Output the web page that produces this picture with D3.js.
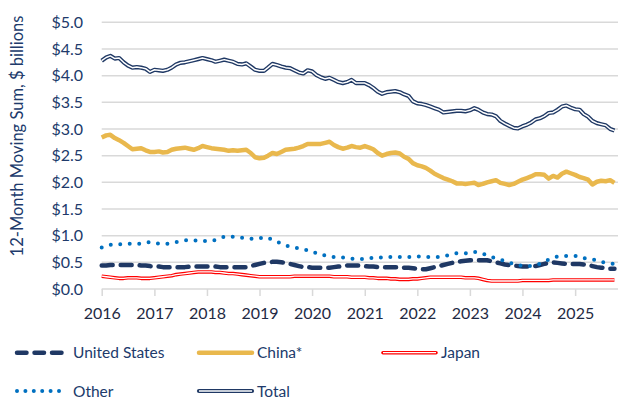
<!DOCTYPE html>
<html>
<head>
<meta charset="utf-8">
<script src="https://cdn.jsdelivr.net/npm/d3@7"></script>
<style>
  body { margin: 0; background: #fff; }
  svg text { font-family: Lato, "Open Sans", sans-serif; }
</style>
</head>
<body>
<svg id="chart" width="620" height="402"></svg>
<script>
// monthly values, Jan 2016 .. Oct 2025 ($ billions, 12-month moving sum)
const startYear = 2016;
const yTicks = [0, 0.5, 1, 1.5, 2, 2.5, 3, 3.5, 4, 4.5, 5];
const xTickYears = [2016, 2017, 2018, 2019, 2020, 2021, 2022, 2023, 2024, 2025];

const total = [
  4.28, 4.34, 4.37, 4.32, 4.33, 4.25, 4.19, 4.15, 4.16, 4.15, 4.13, 4.07,
  4.11, 4.10, 4.09, 4.11, 4.15, 4.21, 4.24, 4.25, 4.27, 4.29, 4.31, 4.33,
  4.31, 4.29, 4.26, 4.28, 4.30, 4.28, 4.26, 4.22, 4.21, 4.23, 4.17, 4.11,
  4.09, 4.09, 4.15, 4.22, 4.20, 4.17, 4.15, 4.14, 4.10, 4.06, 4.04, 4.10,
  4.08, 4.01, 3.97, 3.94, 3.96, 3.92, 3.88, 3.86, 3.88, 3.92, 3.86, 3.86,
  3.86, 3.82, 3.77, 3.70, 3.66, 3.69, 3.70, 3.71, 3.69, 3.65, 3.62, 3.52,
  3.48, 3.47, 3.45, 3.42, 3.39, 3.36, 3.31, 3.32, 3.33, 3.34, 3.34, 3.33,
  3.35, 3.39, 3.36, 3.31, 3.28, 3.27, 3.24, 3.15, 3.10, 3.06, 3.02, 3.01,
  3.05, 3.08, 3.12, 3.18, 3.20, 3.24, 3.30, 3.31, 3.36, 3.42, 3.44, 3.40,
  3.37, 3.36, 3.28, 3.23, 3.15, 3.11, 3.09, 3.07, 3.00, 2.97
];

const china = [
  2.84, 2.88, 2.89, 2.83, 2.79, 2.74, 2.68, 2.62, 2.63, 2.64, 2.60, 2.57,
  2.57, 2.58, 2.56, 2.57, 2.61, 2.63, 2.64, 2.65, 2.63, 2.61, 2.64, 2.68,
  2.66, 2.64, 2.63, 2.62, 2.61, 2.59, 2.60, 2.59, 2.60, 2.61, 2.55, 2.47,
  2.45, 2.46, 2.50, 2.55, 2.53, 2.57, 2.61, 2.62, 2.63, 2.65, 2.68, 2.72,
  2.72, 2.72, 2.72, 2.74, 2.76, 2.70, 2.66, 2.63, 2.65, 2.68, 2.66, 2.65,
  2.68, 2.65, 2.62, 2.55, 2.50, 2.53, 2.55, 2.56, 2.54, 2.48, 2.44, 2.36,
  2.32, 2.30, 2.27, 2.22, 2.16, 2.12, 2.08, 2.05, 2.02, 1.98, 1.98, 1.97,
  1.98, 1.99, 1.95, 1.97, 2.00, 2.02, 2.04, 1.99, 1.97, 1.95, 1.97, 2.01,
  2.05, 2.08, 2.11, 2.15, 2.15, 2.14, 2.07, 2.12, 2.09, 2.16, 2.20, 2.17,
  2.14, 2.10, 2.08, 2.05, 1.96, 2.01, 2.03, 2.02, 2.04, 1.99
];

const other = [
  0.78, 0.80, 0.83, 0.84, 0.84, 0.84, 0.85, 0.85, 0.85, 0.85, 0.87, 0.88,
  0.87, 0.85, 0.85, 0.85, 0.86, 0.88, 0.90, 0.91, 0.92, 0.91, 0.91, 0.90,
  0.90, 0.90, 0.92, 0.95, 0.98, 0.99, 0.98, 0.98, 0.96, 0.95, 0.94, 0.94,
  0.95, 0.97, 0.96, 0.92, 0.89, 0.85, 0.82, 0.79, 0.78, 0.76, 0.74, 0.73,
  0.71, 0.67, 0.64, 0.63, 0.61, 0.60, 0.59, 0.59, 0.58, 0.57, 0.56, 0.56,
  0.57, 0.58, 0.58, 0.59, 0.59, 0.60, 0.60, 0.60, 0.60, 0.60, 0.60, 0.61,
  0.61, 0.61, 0.60, 0.60, 0.60, 0.60, 0.61, 0.63, 0.65, 0.67, 0.67, 0.67,
  0.68, 0.70, 0.68, 0.66, 0.63, 0.60, 0.57, 0.55, 0.52, 0.49, 0.47, 0.44,
  0.44, 0.43, 0.43, 0.45, 0.47, 0.51, 0.55, 0.58, 0.61, 0.61, 0.62, 0.62,
  0.62, 0.61, 0.58, 0.56, 0.55, 0.54, 0.51, 0.49, 0.48, 0.47
];

const unitedStates = [
  0.44, 0.44, 0.45, 0.45, 0.45, 0.45, 0.45, 0.45, 0.45, 0.44, 0.44, 0.43,
  0.42, 0.42, 0.41, 0.41, 0.41, 0.41, 0.41, 0.41, 0.42, 0.42, 0.42, 0.42,
  0.42, 0.42, 0.42, 0.41, 0.41, 0.41, 0.41, 0.41, 0.41, 0.41, 0.43, 0.45,
  0.47, 0.49, 0.50, 0.51, 0.51, 0.50, 0.49, 0.47, 0.45, 0.43, 0.41, 0.41,
  0.40, 0.40, 0.40, 0.40, 0.40, 0.41, 0.42, 0.43, 0.44, 0.44, 0.44, 0.44,
  0.43, 0.42, 0.42, 0.41, 0.41, 0.41, 0.41, 0.41, 0.41, 0.40, 0.40, 0.39,
  0.38, 0.37, 0.37, 0.39, 0.41, 0.43, 0.45, 0.47, 0.49, 0.51, 0.52, 0.53,
  0.54, 0.54, 0.54, 0.54, 0.54, 0.52, 0.50, 0.48, 0.46, 0.45, 0.44, 0.43,
  0.42, 0.42, 0.42, 0.43, 0.45, 0.47, 0.49, 0.50, 0.49, 0.48, 0.47, 0.47,
  0.47, 0.47, 0.46, 0.45, 0.43, 0.41, 0.40, 0.39, 0.38, 0.38
];

const japan = [
  0.24, 0.23, 0.22, 0.21, 0.20, 0.20, 0.21, 0.21, 0.21, 0.20, 0.20, 0.20,
  0.21, 0.22, 0.23, 0.24, 0.25, 0.27, 0.28, 0.29, 0.30, 0.31, 0.32, 0.32,
  0.32, 0.32, 0.31, 0.31, 0.30, 0.29, 0.29, 0.28, 0.27, 0.26, 0.25, 0.24,
  0.23, 0.23, 0.23, 0.23, 0.23, 0.23, 0.23, 0.23, 0.24, 0.24, 0.24, 0.24,
  0.24, 0.24, 0.24, 0.24, 0.24, 0.23, 0.23, 0.23, 0.23, 0.22, 0.22, 0.22,
  0.22, 0.21, 0.21, 0.20, 0.20, 0.20, 0.19, 0.19, 0.18, 0.18, 0.18, 0.19,
  0.19, 0.20, 0.21, 0.22, 0.22, 0.22, 0.22, 0.22, 0.22, 0.22, 0.22, 0.21,
  0.21, 0.21, 0.20, 0.18, 0.16, 0.15, 0.15, 0.15, 0.15, 0.15, 0.15, 0.15,
  0.16, 0.16, 0.16, 0.16, 0.16, 0.16, 0.16, 0.17, 0.17, 0.17, 0.17, 0.17,
  0.17, 0.17, 0.17, 0.17, 0.17, 0.17, 0.17, 0.17, 0.17, 0.17
];

const navy = "#1F3864";
const textColor = "#203A6B";

const svg = d3.select("#chart");
const plotLeft = 101.7, plotRight = 618, plotTop = 22.3, plotBottom = 289;

const x = d3.scaleTime()
  .domain([new Date(2016, 0, 1), new Date(2026, 0, 1)])
  .range([plotLeft, plotLeft + 526]);
const y = d3.scaleLinear().domain([0, 5]).range([plotBottom, plotTop]);

const dateOf = (i) => new Date(startYear, i, 1);

// gridlines
svg.append("g")
  .selectAll("line")
  .data(yTicks)
  .join("line")
  .attr("x1", plotLeft)
  .attr("x2", plotRight)
  .attr("y1", (d) => y(d))
  .attr("y2", (d) => y(d))
  .attr("stroke", "#d9d9d9")
  .attr("stroke-width", 1.5);

// y labels
svg.append("g")
  .selectAll("text")
  .data(yTicks)
  .join("text")
  .attr("x", 83)
  .attr("y", (d) => y(d))
  .attr("dy", "0.36em")
  .attr("text-anchor", "end")
  .attr("font-size", "16px")
  .attr("fill", textColor)
  .text((d) => "$" + d.toFixed(1));

// x axis
const xAxis = d3.axisBottom(x)
  .tickValues(xTickYears.map((yr) => new Date(yr, 0, 1)))
  .tickFormat(d3.timeFormat("%Y"))
  .tickSize(7)
  .tickSizeOuter(0);

const gx = svg.append("g")
  .attr("transform", `translate(0,${plotBottom})`)
  .call(xAxis);
gx.select(".domain").remove();
gx.selectAll(".tick line").attr("stroke", "#d9d9d9").attr("stroke-width", 1.5);
gx.selectAll(".tick text")
  .attr("font-size", "16px")
  .attr("font-family", "Lato, sans-serif")
  .attr("fill", "#1F2A44")
  .attr("dy", "1.25em");

// axis title
svg.append("text")
  .attr("transform", "translate(23,136) rotate(-90)")
  .attr("text-anchor", "middle")
  .attr("font-size", "16.5px")
  .attr("fill", textColor)
  .text("12-Month Moving Sum, $ billions");

const line = d3.line()
  .x((d, i) => x(dateOf(i)))
  .y((d) => y(d));

const plot = svg.append("g");

// Japan: red double line
plot.append("path").attr("d", line(japan))
  .attr("fill", "none").attr("stroke", "#FF0000").attr("stroke-width", 3.6)
  .attr("stroke-linejoin", "round");
plot.append("path").attr("d", line(japan))
  .attr("fill", "none").attr("stroke", "#fff").attr("stroke-width", 1.3)
  .attr("stroke-linejoin", "round");

// US dashed
plot.append("path").attr("d", line(unitedStates))
  .attr("fill", "none").attr("stroke", navy).attr("stroke-width", 4.5)
  .attr("stroke-dasharray", "11,8").attr("stroke-linecap", "round")
  .attr("stroke-linejoin", "round");

// Other dotted
plot.append("path").attr("d", line(other))
  .attr("fill", "none").attr("stroke", "#0070C0").attr("stroke-width", 4)
  .attr("stroke-dasharray", "0,9.5").attr("stroke-linecap", "round");

// China
plot.append("path").attr("d", line(china))
  .attr("fill", "none").attr("stroke", "#E9B84D").attr("stroke-width", 4.5)
  .attr("stroke-linejoin", "round");

// Total: navy double line
plot.append("path").attr("d", line(total))
  .attr("fill", "none").attr("stroke", navy).attr("stroke-width", 4.2)
  .attr("stroke-linejoin", "round");
plot.append("path").attr("d", line(total))
  .attr("fill", "none").attr("stroke", "#fff").attr("stroke-width", 1.5)
  .attr("stroke-linejoin", "round");

// legend
const legendItems = [
  { name: "United States", x: 15, y: 352.7, kind: "dash" },
  { name: "China*", x: 199, y: 352.7, kind: "china" },
  { name: "Japan", x: 383, y: 352.7, kind: "japan" },
  { name: "Other", x: 15, y: 391, kind: "dot" },
  { name: "Total", x: 199, y: 391, kind: "total" }
];

const lg = svg.append("g")
  .selectAll("g")
  .data(legendItems)
  .join("g")
  .attr("transform", (d) => `translate(${d.x},${d.y})`);

lg.each(function (d) {
  const g = d3.select(this);
  const seg = (stroke, w) => g.append("line")
    .attr("x1", 0).attr("x2", 53).attr("y1", 0).attr("y2", 0)
    .attr("stroke", stroke).attr("stroke-width", w);
  if (d.kind === "dash") {
    seg(navy, 4.5).attr("x1", 2).attr("x2", 51)
      .attr("stroke-dasharray", "9.5,8").attr("stroke-linecap", "round");
  } else if (d.kind === "dot") {
    seg("#0070C0", 4).attr("x1", 2).attr("x2", 52)
      .attr("stroke-dasharray", "0,8.4").attr("stroke-linecap", "round");
  } else if (d.kind === "china") {
    seg("#E9B84D", 4.5).attr("stroke-linecap", "round");
  } else if (d.kind === "japan") {
    seg("#FF0000", 3.6).attr("stroke-linecap", "round");
    seg("#fff", 1.3);
  } else {
    seg(navy, 4.2).attr("stroke-linecap", "round");
    seg("#fff", 1.5);
  }
});

lg.append("text")
  .attr("x", 58)
  .attr("dy", "0.36em")
  .attr("font-size", "15.5px")
  .attr("fill", textColor)
  .text((d) => d.name);
</script>
</body>
</html>
